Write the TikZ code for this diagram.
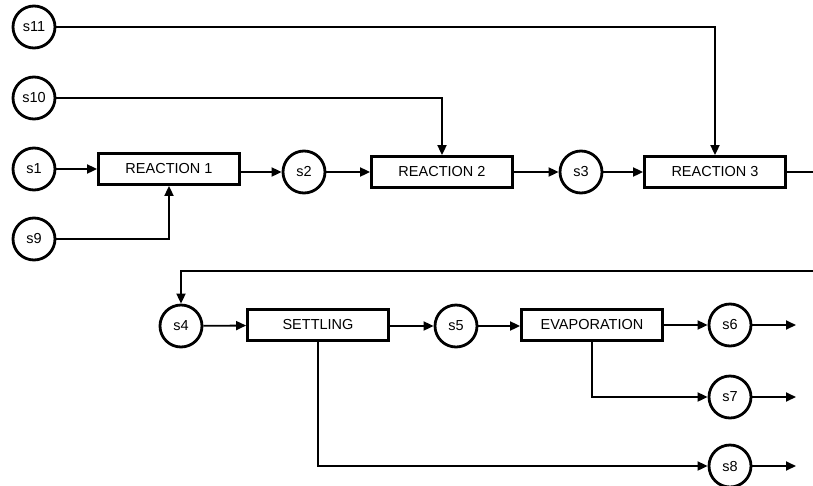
\documentclass[tikz,border=0pt]{standalone}
\usepackage{fontspec}
\setmainfont{Liberation Sans}
\usetikzlibrary{arrows.meta}
\begin{document}
\begin{tikzpicture}[x=1pt,y=-1pt,
  stream/.style={circle,draw,line width=2.8pt,minimum size=42pt,inner sep=0pt,font=\fontsize{14.5}{16}\selectfont},
  unit/.style={rectangle,draw,line width=2.8pt,minimum width=141pt,minimum height=31pt,inner sep=0pt,font=\fontsize{14.5}{16}\selectfont},
  conn/.style={line width=1.8pt},
  arr/.style={conn,-{Triangle[length=10pt,width=9pt]}}]
\useasboundingbox (0,0) rectangle (813,485);
% top section
\node[stream] (s11) at (34,27) {s11};
\node[stream] (s10) at (34,98) {s10};
\node[stream] (s1) at (34,169) {s1};
\node[stream] (s9) at (34,239) {s9};
\node[unit] (r1) at (169,169) {REACTION 1};
\node[stream] (s2) at (304,172) {s2};
\node[unit] (r2) at (442,172) {REACTION 2};
\node[stream] (s3) at (581,172) {s3};
\node[unit] (r3) at (715,172) {REACTION 3};
\coordinate (e1) at (813,172);
\coordinate (e2) at (813,271);
\coordinate (c4) at (181,271);
% bottom section
\node[stream] (s4) at (181,326) {s4};
\node[unit] (set) at (318,325) {SETTLING};
\node[stream] (s5) at (456,326) {s5};
\node[unit] (ev) at (592,325) {EVAPORATION};
\node[stream] (s6) at (730,325) {s6};
\node[stream] (s7) at (730,397) {s7};
\node[stream] (s8) at (730,466) {s8};
\coordinate (o6) at (796,325);
\coordinate (o7) at (796,397);
\coordinate (o8) at (796,466);
% connectors
\draw[arr] (s1) -- (r1);
\draw[arr] (s9) -| (r1.south);
\draw[arr] (r1.east |- s2) -- (s2);
\draw[arr] (s2) -- (r2);
\draw[arr] (s10) -| (r2.north);
\draw[arr] (r2) -- (s3);
\draw[arr] (s3) -- (r3);
\draw[arr] (s11) -| (r3.north);
\draw[conn] (r3) -- (e1);
\draw[arr] (e2) -- (c4) -- (s4.north);
\draw[arr] (s4) -- (set);
\draw[arr] (set.east |- s5) -- (s5);
\draw[arr] (s5) -- (ev.west |- s5);
\draw[arr] (ev) -- (s6);
\draw[arr] (ev.south) |- (s7);
\draw[arr] (set.south) |- (s8);
\draw[arr] (s6) -- (o6);
\draw[arr] (s7) -- (o7);
\draw[arr] (s8) -- (o8);
\end{tikzpicture}
\end{document}
